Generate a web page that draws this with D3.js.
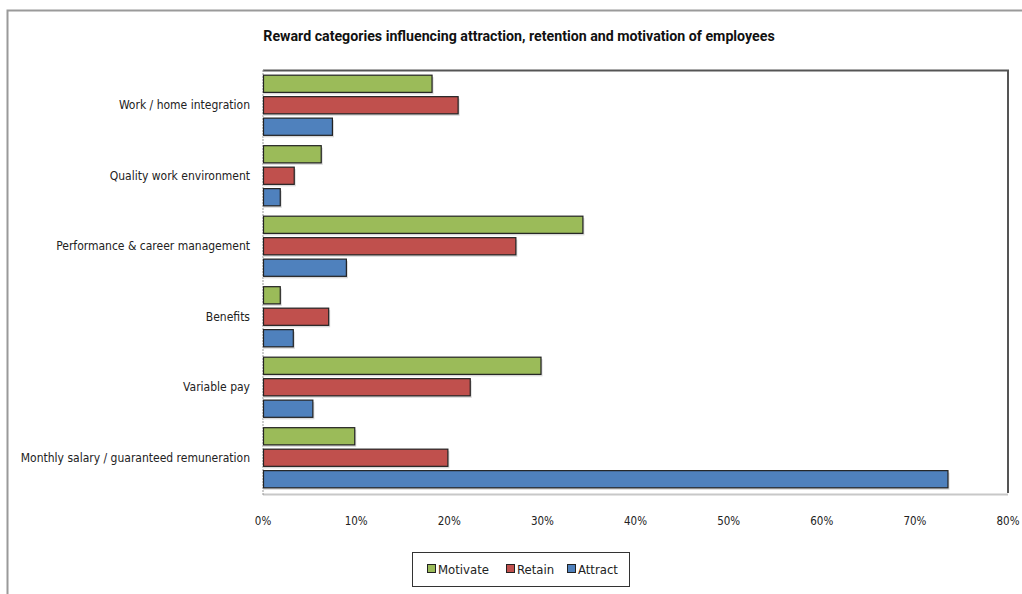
<!DOCTYPE html>
<html>
<head>
<meta charset="utf-8">
<script src="https://cdn.jsdelivr.net/npm/d3@7"></script>
<style>
  body { margin: 0; background: #fff; }
  svg { display: block; }
</style>
</head>
<body>
<div id="chart"></div>
<script>
var categories = ["Work / home integration", "Quality work environment", "Performance & career management",
                  "Benefits", "Variable pay", "Monthly salary / guaranteed remuneration"];
var seriesNames = ["Motivate", "Retain", "Attract"];
var motivate = [18.1, 6.2, 34.3, 1.8, 29.8, 9.8];
var retain   = [20.9, 3.3, 27.1, 7.0, 22.2, 19.8];
var attract  = [7.4, 1.8, 8.9, 3.2, 5.3, 73.5];
var xTicks = [0, 10, 20, 30, 40, 50, 60, 70, 80];
var colors = ["#9BBB59", "#C0504D", "#4F81BD"];

var values = [motivate, retain, attract];

var W = 1022, H = 594;
var margin = {top: 70, right: 14, bottom: 101, left: 263};
var width = 1008 - margin.left,
    height = 493 - margin.top;

var svg = d3.select("#chart").append("svg")
    .attr("width", W)
    .attr("height", H);

// outer chart border (only top/left visible)
svg.append("path")
    .attr("d", "M7.5," + H + "V10.5H" + W)
    .attr("fill", "none")
    .attr("stroke", "#9a9a9a")
    .attr("stroke-width", 2);

svg.append("text")
    .attr("x", 519)
    .attr("y", 41)
    .attr("text-anchor", "middle")
    .style("font-family", "Roboto, sans-serif")
    .style("font-size", "14.2px")
    .style("font-weight", "bold")
    .style("fill", "#111")
    .text("Reward categories influencing attraction, retention and motivation of employees");

var g = svg.append("g")
    .attr("transform", "translate(" + margin.left + "," + margin.top + ")");

var x = d3.scaleLinear().domain([0, 80]).range([0, width]);
var y0 = d3.scaleBand().domain(categories).range([0, height]).paddingInner(0.147).paddingOuter(0.0735);
var y1 = d3.scaleBand().domain(seriesNames).range([0, y0.bandwidth()]).paddingInner(0.2);

// plot frame
g.append("line")
    .attr("x1", 0).attr("x2", width).attr("y1", height + 1.5).attr("y2", height + 1.5)
    .attr("stroke", "#c8c8c8").attr("stroke-width", 2);
g.append("path")
    .attr("d", "M0,0.5H" + width + "V" + height)
    .attr("fill", "none")
    .attr("stroke", "#555")
    .attr("stroke-width", 2);
g.append("line")
    .attr("x1", 0).attr("x2", 0).attr("y1", 0).attr("y2", height + 2)
    .attr("stroke", "#999")
    .attr("stroke-dasharray", "2,1");

var groups = g.selectAll(".cat")
    .data(categories)
    .enter().append("g")
    .attr("class", "cat")
    .attr("transform", function(d) { return "translate(0," + y0(d) + ")"; });

var bars = groups.selectAll(".bar")
    .data(function(d, i) {
      return seriesNames.map(function(s, j) { return {series: s, idx: j, value: values[j][i]}; });
    })
    .enter();

// soft shadow under each bar
bars.append("rect")
    .attr("x", 0)
    .attr("y", function(d) { return y1(d.series) + 2; })
    .attr("width", function(d) { return x(d.value) + 2; })
    .attr("height", y1.bandwidth())
    .style("fill", "#d9d9d9");

bars.append("rect")
    .attr("class", "bar")
    .attr("x", 0.5)
    .attr("y", function(d) { return y1(d.series); })
    .attr("width", function(d) { return x(d.value); })
    .attr("height", y1.bandwidth())
    .style("fill", function(d) { return colors[d.idx]; })
    .style("stroke", "#222")
    .style("stroke-width", 1.2);

// category labels
g.selectAll(".catlabel")
    .data(categories)
    .enter().append("text")
    .attr("x", -13)
    .attr("y", function(d) { return y0(d) + y0.bandwidth() / 2; })
    .attr("dy", "0.35em")
    .attr("text-anchor", "end")
    .style("font-family", "'DejaVu Sans Condensed', sans-serif")
    .style("font-size", "12px")
    .style("fill", "#222")
    .text(function(d) { return d; });

// x tick labels
g.selectAll(".xtick")
    .data(xTicks)
    .enter().append("text")
    .attr("x", function(d) { return x(d); })
    .attr("y", height + 28)
    .attr("dy", "0.35em")
    .attr("text-anchor", "middle")
    .style("font-family", "'DejaVu Sans Condensed', sans-serif")
    .style("font-size", "11.5px")
    .style("fill", "#222")
    .text(function(d) { return d + "%"; });

// legend
var legend = svg.append("g");
legend.append("rect")
    .attr("x", 412.5).attr("y", 552.5)
    .attr("width", 217).attr("height", 34)
    .attr("fill", "#fff")
    .attr("stroke", "#333");

var legX = [427, 506, 567];
var item = legend.selectAll(".leg")
    .data(seriesNames)
    .enter().append("g")
    .attr("transform", function(d, i) { return "translate(" + legX[i] + ",569)"; });
item.append("rect")
    .attr("x", 0.5).attr("y", -4.5)
    .attr("width", 8).attr("height", 8)
    .style("fill", function(d, i) { return colors[i]; })
    .style("stroke", "#222");
item.append("text")
    .attr("x", 11)
    .attr("dy", "0.35em")
    .style("font-family", "'DejaVu Sans Condensed', sans-serif")
    .style("font-size", "13px")
    .style("fill", "#222")
    .text(function(d) { return d; });
</script>
</body>
</html>
